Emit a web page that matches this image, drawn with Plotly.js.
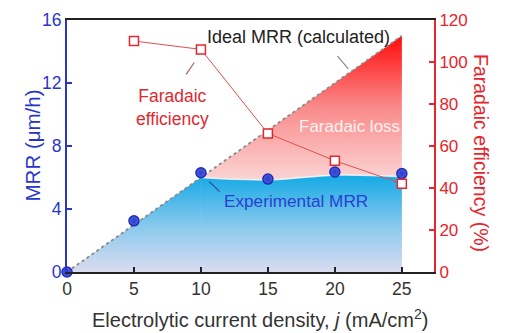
<!DOCTYPE html>
<html>
<head>
<meta charset="utf-8">
<script src="https://cdn.plot.ly/plotly-3.0.1.min.js"></script>
<style>html,body{margin:0;padding:0;background:#fff;}#chart{width:517px;height:333px;}</style>
</head>
<body>
<div id="chart"></div>
<script>
// Data
var currentDensity = [0, 5, 10, 15, 20, 25];
var experimentalMRR = [0, 3.25, 6.3, 5.9, 6.35, 6.25];
var idealJ = [0, 25];
var idealMRR = [0, 15];
var fillLowJ = [0, 10];
var fillLowMRR = [0, 6.0];
var fillHighJ = [10, 15, 20, 25];
var fillHighMRR = [6.0, 5.85, 6.15, 6.05];
var feJ = [5, 10, 15, 20, 25];
var feValues = [110, 106, 66, 53, 42];
var leftTicks = [0, 4, 8, 12, 16];
var rightTicks = [0, 20, 40, 60, 80, 100, 120];
var xTicks = [0, 5, 10, 15, 20, 25];

var FONT = 'Liberation Sans, Arial, sans-serif';
var BLUE = '#2a35c8';
var RED = '#e8242c';

var blueScale = [[0, '#dadcf0'], [0.45, '#8ccaee'], [1, '#12a9e6']];
var redScale = [[0, '#fbd2d2'], [0.5, '#fa8a8a'], [1, '#ff0a0a']];

var traces = [
  { x: idealJ, y: idealMRR, type: 'scatter', mode: 'none', fill: 'tozeroy',
    fillgradient: { type: 'vertical', start: 6, stop: 15, colorscale: redScale },
    hoverinfo: 'skip', showlegend: false },
  { x: fillLowJ, y: fillLowMRR, type: 'scatter', mode: 'none', fill: 'tozeroy',
    fillgradient: { type: 'vertical', start: 0, stop: 6.2, colorscale: blueScale },
    hoverinfo: 'skip', showlegend: false },
  { x: fillHighJ, y: fillHighMRR, type: 'scatter', mode: 'lines',
    line: { width: 1.5, shape: 'spline', color: 'rgba(255,255,255,0.75)' }, fill: 'tozeroy',
    fillgradient: { type: 'vertical', start: 0, stop: 6.2, colorscale: blueScale },
    hoverinfo: 'skip', showlegend: false },
  { x: idealJ, y: idealMRR, type: 'scatter', mode: 'lines',
    line: { color: '#8a8a8a', width: 1.8, dash: 'dot' }, showlegend: false },
  { x: currentDensity, y: experimentalMRR, type: 'scatter', mode: 'markers', cliponaxis: false,
    marker: { size: 10, color: '#4b5ce4', line: { color: '#1f2db5', width: 1.5 },
      gradient: { type: 'radial', color: '#2d3cc8' } }, showlegend: false },
  { x: feJ, y: feValues, yaxis: 'y2', type: 'scatter', mode: 'lines+markers', cliponaxis: false,
    line: { color: '#e05050', width: 1 },
    marker: { symbol: 'square', size: 9, color: '#ffffff', line: { color: '#e0282e', width: 1.5 } },
    showlegend: false }
];

var PL = 67, PR = 434, PT = 20, PB = 272;
function px(xp) { return (xp - PL) / (PR - PL); }
function py(yp) { return (PB - yp) / (PB - PT); }

var layout = {
  width: 517, height: 333,
  margin: { l: 67, r: 83, t: 20, b: 61 },
  paper_bgcolor: '#ffffff', plot_bgcolor: '#ffffff',
  font: { family: FONT, size: 17, color: '#333' },
  xaxis: {
    range: [0, 27.4], tickvals: xTicks, ticks: 'inside', ticklen: 5, tickwidth: 2, tickcolor: '#222',
    showline: true, linecolor: '#222', linewidth: 2, mirror: true, showgrid: false, zeroline: false,
    tickfont: { family: FONT, size: 17.5, color: '#333' }
  },
  yaxis: {
    range: [0, 16], tickvals: leftTicks, ticks: 'inside', ticklen: 5, tickwidth: 2, tickcolor: BLUE,
    showline: true, linecolor: BLUE, linewidth: 2, showgrid: false, zeroline: false,
    tickfont: { family: FONT, size: 17.5, color: BLUE }
  },
  yaxis2: {
    range: [0, 120], tickvals: rightTicks, overlaying: 'y', side: 'right',
    ticks: 'inside', ticklen: 5, tickwidth: 2, tickcolor: RED,
    showline: true, linecolor: RED, linewidth: 2, showgrid: false, zeroline: false,
    tickfont: { family: FONT, size: 17, color: RED }
  },
  shapes: [
    { type: 'line', xref: 'x', yref: 'y', x0: 20.2, y0: 13.7, x1: 21.0, y1: 12.9, line: { color: '#8a8a8a', width: 1.2 } },
    { type: 'line', xref: 'x', yref: 'y', x0: 8.9, y0: 12.55, x1: 9.5, y1: 13.3, line: { color: '#b06060', width: 1.2 } },
    { type: 'line', xref: 'x', yref: 'y', x0: 10.6, y0: 5.75, x1: 11.4, y1: 5.1, line: { color: '#33449a', width: 1.2 } }
  ],
  annotations: [
    { x: 17.3, y: 14.9, xref: 'x', yref: 'y', text: 'Ideal MRR (calculated)', showarrow: false,
      font: { family: FONT, size: 18, color: '#222' } },
    { x: 7.9, y: 10.45, xref: 'x', yref: 'y', text: 'Faradaic<br>efficiency', showarrow: false,
      font: { family: FONT, size: 17.5, color: '#e0282e' }, align: 'center' },
    { x: 21.1, y: 9.24, xref: 'x', yref: 'y', text: 'Faradaic loss', showarrow: false,
      font: { family: FONT, size: 17, color: 'rgba(255,255,255,0.88)' } },
    { x: 17.1, y: 4.5, xref: 'x', yref: 'y', text: 'Experimental MRR', showarrow: false,
      font: { family: FONT, size: 17.2, color: '#2a3fd0' } },
    { x: px(494), y: py(153), xref: 'paper', yref: 'paper', text: 'Faradaic efficiency (%)', showarrow: false,
      textangle: 90, font: { family: FONT, size: 19.5, color: RED } },
    { x: px(18), y: py(146), xref: 'paper', yref: 'paper', text: 'MRR (μm/h)', showarrow: false,
      textangle: -90, font: { family: FONT, size: 20.5, color: BLUE } },
    { x: px(260), y: py(333), xref: 'paper', yref: 'paper', yanchor: 'bottom',
      text: 'Electrolytic current density, <i>j</i> (mA/cm<sup>2</sup>)',
      showarrow: false, font: { family: FONT, size: 20, color: '#333' } }
  ]
};

Plotly.newPlot('chart', traces, layout, { displayModeBar: false, staticPlot: true });
</script>
</body>
</html>
